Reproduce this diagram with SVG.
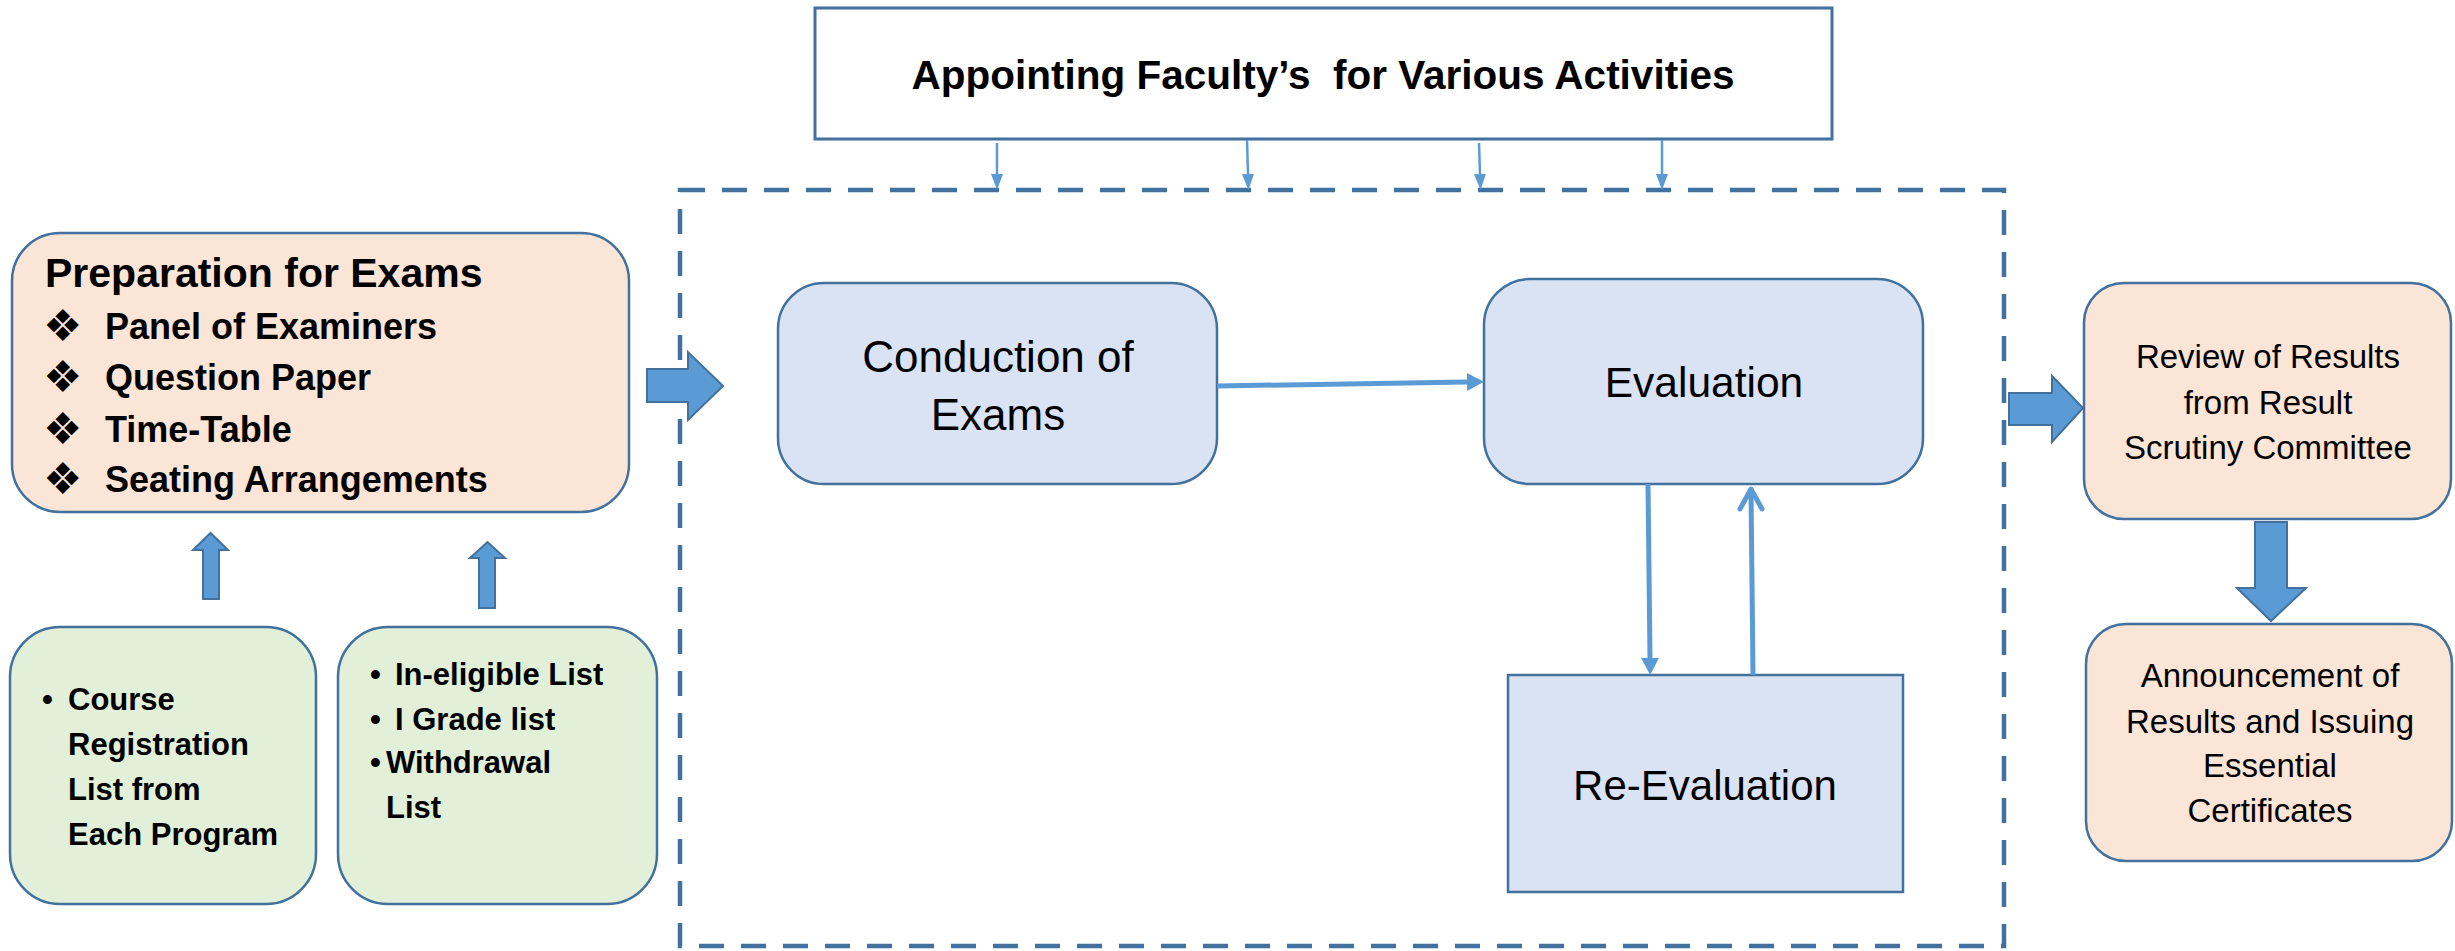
<svg xmlns="http://www.w3.org/2000/svg" width="2455" height="951" viewBox="0 0 2455 951">
<style>
  .t { font-family: "Liberation Sans", Arial, sans-serif; fill: #000; }
  .b { font-weight: bold; }
  .pre { white-space: pre; }
  .orange { fill: #FBE5D6; stroke: #41719C; stroke-width: 2.5; }
  .green { fill: #E2F0D9; stroke: #41719C; stroke-width: 2.5; }
  .blue { fill: #DAE3F3; stroke: #41719C; stroke-width: 2.5; }
  .blk { fill: #5B9BD5; stroke: #41719C; stroke-width: 2; }
  .conn { stroke: #5B9BD5; fill: none; }
  .sym { font-family: "DejaVu Sans", sans-serif; fill: #000; }
</style>
<defs>
  <marker id="hsmall" markerUnits="userSpaceOnUse" markerWidth="16" markerHeight="12" refX="0" refY="6" orient="auto">
    <path d="M0,0 L16,6 L0,12 z" fill="#5B9BD5"/>
  </marker>
  <marker id="hbig" markerUnits="userSpaceOnUse" markerWidth="17" markerHeight="18" refX="0" refY="9" orient="auto">
    <path d="M0,0 L17,9 L0,18 z" fill="#5B9BD5"/>
  </marker>
</defs>
<rect width="2455" height="951" fill="#fff"/>

<!-- dashed container -->
<g id="container">
  <rect x="680" y="190" width="1324" height="756" fill="none" stroke="#41719C" stroke-width="4.5" stroke-dasharray="25 17"/>
</g>

<!-- Appointing -->
<g id="appointing">
  <rect x="815" y="8" width="1017" height="131" fill="#fff" stroke="#41719C" stroke-width="3"/>
  <text class="t b pre" x="1323" y="89" font-size="40.5" text-anchor="middle">Appointing Faculty’s  for Various Activities</text>
</g>

<!-- Preparation -->
<g id="preparation">
  <rect class="orange" x="12" y="233" width="617" height="279" rx="48" ry="48"/>
  <text class="t b" x="45" y="287" font-size="41">Preparation for Exams</text>
  <text class="sym" x="43" y="341" font-size="44">❖</text>
  <text class="t b" x="105" y="339" font-size="36">Panel of Examiners</text>
  <text class="sym" x="43" y="392" font-size="44">❖</text>
  <text class="t b" x="105" y="390" font-size="36">Question Paper</text>
  <text class="sym" x="43" y="444" font-size="44">❖</text>
  <text class="t b" x="105" y="442" font-size="36">Time-Table</text>
  <text class="sym" x="43" y="494" font-size="44">❖</text>
  <text class="t b" x="105" y="492" font-size="36">Seating Arrangements</text>
</g>

<!-- Course registration -->
<g id="course-list">
  <rect class="green" x="10" y="627" width="306" height="277" rx="50" ry="50"/>
  <text class="t b" x="42" y="710" font-size="31">•</text>
  <text class="t b" x="68" y="710" font-size="31">Course</text>
  <text class="t b" x="68" y="755" font-size="31">Registration</text>
  <text class="t b" x="68" y="800" font-size="31">List from</text>
  <text class="t b" x="68" y="845" font-size="31">Each Program</text>
</g>

<!-- Ineligible list -->
<g id="ineligible-list">
  <rect class="green" x="338" y="627" width="319" height="277" rx="50" ry="50"/>
  <text class="t b" x="370" y="685" font-size="31">•</text>
  <text class="t b" x="395" y="685" font-size="31">In-eligible List</text>
  <text class="t b" x="370" y="730" font-size="31">•</text>
  <text class="t b" x="395" y="730" font-size="31">I Grade list</text>
  <text class="t b" x="370" y="773" font-size="31">•</text>
  <text class="t b" x="386" y="773" font-size="31">Withdrawal</text>
  <text class="t b" x="386" y="818" font-size="31">List</text>
</g>

<!-- Conduction -->
<g id="conduction">
  <rect class="blue" x="778" y="283" width="439" height="201" rx="46" ry="46"/>
  <text class="t" x="998" y="372" font-size="44" text-anchor="middle">Conduction of</text>
  <text class="t" x="998" y="430" font-size="44" text-anchor="middle">Exams</text>
</g>

<!-- Evaluation -->
<g id="evaluation">
  <rect class="blue" x="1484" y="279" width="439" height="205" rx="46" ry="46"/>
  <text class="t" x="1704" y="397" font-size="42.5" text-anchor="middle">Evaluation</text>
</g>

<!-- Re-Evaluation -->
<g id="re-evaluation">
  <rect class="blue" x="1508" y="675" width="395" height="217"/>
  <text class="t" x="1705" y="800" font-size="42" text-anchor="middle">Re-Evaluation</text>
</g>

<!-- Review -->
<g id="review">
  <rect class="orange" x="2084" y="283" width="367" height="236" rx="40" ry="40"/>
  <text class="t" x="2268" y="368" font-size="33" text-anchor="middle">Review of Results</text>
  <text class="t" x="2268" y="414" font-size="33" text-anchor="middle">from Result</text>
  <text class="t" x="2268" y="459" font-size="33" text-anchor="middle">Scrutiny Committee</text>
</g>

<!-- Announcement -->
<g id="announcement">
  <rect class="orange" x="2086" y="624" width="366" height="237" rx="40" ry="40"/>
  <text class="t" x="2270" y="687" font-size="33" text-anchor="middle">Announcement of</text>
  <text class="t" x="2270" y="733" font-size="33" text-anchor="middle">Results and Issuing</text>
  <text class="t" x="2270" y="777" font-size="33" text-anchor="middle">Essential</text>
  <text class="t" x="2270" y="822" font-size="33" text-anchor="middle">Certificates</text>
</g>

<!-- connectors -->
<g id="connectors">
  <line class="conn" x1="997" y1="143" x2="997" y2="174" stroke-width="2.5" marker-end="url(#hsmall)"/>
  <line class="conn" x1="1247" y1="140" x2="1248" y2="174" stroke-width="2.5" marker-end="url(#hsmall)"/>
  <line class="conn" x1="1479" y1="143" x2="1480" y2="174" stroke-width="2.5" marker-end="url(#hsmall)"/>
  <line class="conn" x1="1662" y1="140" x2="1662" y2="174" stroke-width="2.5" marker-end="url(#hsmall)"/>

  <line class="conn" x1="1217" y1="386" x2="1467" y2="382" stroke-width="5" marker-end="url(#hbig)"/>
  <line class="conn" x1="1648" y1="484" x2="1650" y2="658" stroke-width="5" marker-end="url(#hbig)"/>
  <line class="conn" x1="1753" y1="675" x2="1751" y2="490" stroke-width="5"/>
  <path class="conn" d="M1740,509 L1751,489 L1762,509" stroke-width="5" stroke-linecap="round" stroke-linejoin="round"/>

  <!-- block arrows -->
  <polygon class="blk" points="647,369 688,369 688,352 723,386 688,420 688,402 647,402"/>
  <polygon class="blk" points="2009,393 2052,393 2052,376 2083,408 2052,442 2052,425 2009,425"/>
  <polygon class="blk" points="2255,522 2287,522 2287,588 2306,588 2271,621 2237,588 2255,588"/>
  <polygon class="blk" points="203,599 203,550 193,550 210.5,533 228,550 219,550 219,599"/>
  <polygon class="blk" points="479,608 479,558 470,558 487.5,542 505,558 495,558 495,608"/>
</g>
</svg>
